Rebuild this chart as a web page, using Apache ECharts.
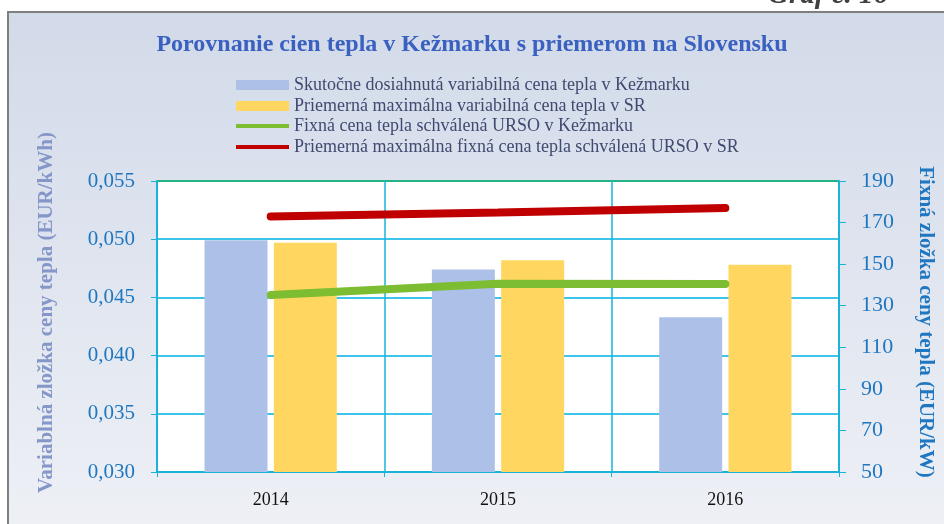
<!DOCTYPE html>
<html>
<head>
<meta charset="utf-8">
<script src="https://cdn.jsdelivr.net/npm/echarts@6/dist/echarts.min.js"></script>
<style>
  html, body { margin: 0; padding: 0; background: #fff; }
  #chart { width: 944px; height: 524px; }
</style>
</head>
<body>
<div id="chart"></div>
<script>
var years = ['2014', '2015', '2016'];
var skutocna = [0.0499, 0.0474, 0.0433];     // Kežmarok, variabilná
var priemerVar = [0.0497, 0.0482, 0.0478];   // SR, variabilná
var fixnaKk = [135.2, 140.6, 140.5];         // Kežmarok, fixná
var fixnaSr = [172.9, 174.8, 177.0];         // SR, fixná

var serif = '"Liberation Serif", "DejaVu Serif", serif';
var gridBlue = '#3ec3ea';
var chart = echarts.init(document.getElementById('chart'));

var legendText = { fontFamily: serif, fontSize: 18, color: '#404a70' };

var option = {
    backgroundColor: '#fff',
    animation: false,
    graphic: [
        {
            type: 'rect', z: -10,
            shape: { x: 8, y: 12, width: 960, height: 540 },
            style: {
                fill: new echarts.graphic.LinearGradient(0, 0, 0, 1, [
                    { offset: 0, color: '#d2dae9' },
                    { offset: 1, color: '#eff1f6' }
                ]),
                stroke: '#7f7f7f', lineWidth: 2
            }
        },
        {
            type: 'text', left: 768, top: -19,
            style: {
                text: 'Graf č. 16', fill: '#404040',
                font: 'italic bold 29px ' + serif
            }
        }
    ],
    title: {
        text: 'Porovnanie cien tepla v Kežmarku s priemerom na Slovensku',
        left: 'center', top: 28,
        textStyle: { fontFamily: serif, fontSize: 24, fontWeight: 'bold', color: '#3a60c0' }
    },
    legend: [
        {
            orient: 'vertical', left: 236, top: 76, padding: 0,
            itemWidth: 53, itemHeight: 10, itemGap: 3,
            textStyle: legendText,
            data: [
                { name: 'Skutočne dosiahnutá variabilná cena tepla v Kežmarku', icon: 'rect' },
                { name: 'Priemerná maximálna variabilná cena tepla v SR', icon: 'rect' }
            ]
        },
        {
            orient: 'vertical', left: 236, top: 117, padding: 0,
            itemWidth: 53, itemHeight: 4, itemGap: 3,
            textStyle: legendText,
            data: [
                { name: 'Fixná cena tepla schválená URSO v Kežmarku', icon: 'rect' },
                { name: 'Priemerná maximálna fixná cena tepla schválená URSO v SR', icon: 'rect' }
            ]
        }
    ],
    grid: { left: 157, right: 105, top: 181, bottom: 52, show: true, backgroundColor: '#fff', borderWidth: 0 },
    xAxis: {
        type: 'category', data: years,
        axisLine: { lineStyle: { color: '#19b3da', width: 2 } },
        axisTick: { show: true, length: 5, lineStyle: { color: '#19b3da' } },
        splitLine: { show: true, lineStyle: { color: '#19b3da', width: 1.5 } },
        axisLabel: { fontFamily: serif, fontSize: 18, color: '#111', margin: 19 }
    },
    yAxis: [
        {
            type: 'value', min: 0.03, max: 0.055, interval: 0.005,
            name: 'Variablná zložka ceny tepla (EUR/kWh)',
            nameLocation: 'middle', nameGap: 100,
            nameTextStyle: {
                fontFamily: serif, fontSize: 21, fontWeight: 'bold', color: '#8596c8',
                padding: [0, 0, 0, 28]
            },
            axisLine: { show: true, lineStyle: { color: '#19b3da', width: 2 } },
            axisTick: { show: true, length: 6, lineStyle: { color: '#19b3da' } },
            splitLine: {
                lineStyle: { color: [gridBlue, gridBlue, gridBlue, gridBlue, gridBlue, '#26b386'], width: 2 }
            },
            axisLabel: {
                fontFamily: serif, fontSize: 21, color: '#1f77c2', margin: 22,
                formatter: function (v) { return v.toFixed(3).replace('.', ','); }
            }
        },
        {
            type: 'value', min: 50, max: 190, interval: 20, position: 'right',
            name: 'Fixná zložka ceny tepla (EUR/kW)',
            nameLocation: 'middle', nameGap: 76, nameRotate: -90,
            nameTextStyle: {
                fontFamily: serif, fontSize: 21, fontWeight: 'bold', color: '#1f77c2',
                padding: [0, 9, 0, 0]
            },
            axisLine: { show: true, lineStyle: { color: '#19b3da', width: 2 } },
            axisTick: { show: true, length: 7, lineStyle: { color: '#19b3da' } },
            splitLine: { show: false },
            axisLabel: { fontFamily: serif, fontSize: 22, color: '#1f77c2', margin: 22 }
        }
    ],
    series: [
        {
            name: 'Skutočne dosiahnutá variabilná cena tepla v Kežmarku',
            type: 'bar', data: skutocna, barWidth: 63, barGap: '10%',
            itemStyle: { color: '#adc1e8' }
        },
        {
            name: 'Priemerná maximálna variabilná cena tepla v SR',
            type: 'bar', data: priemerVar, barWidth: 63,
            itemStyle: { color: '#ffd760' }
        },
        {
            name: 'Fixná cena tepla schválená URSO v Kežmarku',
            type: 'line', yAxisIndex: 1, data: fixnaKk, symbol: 'none',
            lineStyle: { color: '#7cbd32', width: 8, cap: 'round' },
            itemStyle: { color: '#7cbd32' }
        },
        {
            name: 'Priemerná maximálna fixná cena tepla schválená URSO v SR',
            type: 'line', yAxisIndex: 1, data: fixnaSr, symbol: 'none',
            lineStyle: { color: '#c00000', width: 8, cap: 'round' },
            itemStyle: { color: '#c00000' }
        }
    ]
};
chart.setOption(option);
</script>
</body>
</html>
